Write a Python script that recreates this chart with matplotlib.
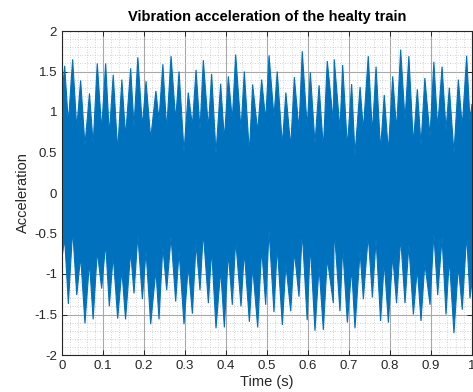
import numpy as np
import matplotlib
matplotlib.use('Agg')
import matplotlib.pyplot as plt
from matplotlib.ticker import MultipleLocator

plt.rcParams['font.family'] = ['Liberation Sans', 'DejaVu Sans']
plt.rcParams['axes.unicode_minus'] = False

# Picos positivos do sinal (tempo, amplitude)
t_up = [0.0065, 0.026, 0.0455, 0.067, 0.086, 0.1065, 0.125, 0.146, 0.1675, 0.185,
        0.205, 0.229, 0.246, 0.266, 0.2855, 0.308, 0.327, 0.3447, 0.365, 0.387,
        0.4057, 0.4236, 0.4447, 0.465, 0.487, 0.505, 0.525, 0.546, 0.5667, 0.586,
        0.6057, 0.627, 0.647, 0.664, 0.6846, 0.7065, 0.727, 0.747, 0.766, 0.786,
        0.8066, 0.826, 0.846, 0.8667, 0.885, 0.907, 0.927, 0.9447, 0.9667, 0.987]
peak_up = [1.57, 1.65, 1.39, 1.23, 1.60, 1.60, 1.46, 1.40, 1.54, 1.675,
           1.38, 1.26, 1.59, 1.69, 1.50, 1.24, 1.52, 1.64, 1.47, 1.35,
           1.44, 1.71, 1.50, 1.34, 1.40, 1.70, 1.50, 1.24, 1.43, 1.75,
           1.49, 1.33, 1.63, 1.65, 1.58, 1.345, 1.31, 1.69, 1.56, 1.21,
           1.44, 1.77, 1.69, 1.28, 1.42, 1.62, 1.56, 1.30, 1.40, 1.695]
# envelope inferior nos mesmos instantes
dip_lo = [-0.56, -0.45, -0.78, -0.85, -0.72, -0.62, -0.77, -0.95, -0.72, -0.52,
          -0.72, -0.95, -0.66, -0.54, -0.72, -0.90, -0.62, -0.48, -0.70, -0.95,
          -0.74, -0.58, -0.72, -0.91, -0.68, -0.46, -0.66, -0.88, -0.72, -0.48,
          -0.64, -0.91, -0.81, -0.44, -0.66, -0.93, -0.72, -0.52, -0.57, -0.85,
          -0.77, -0.55, -0.64, -0.93, -0.87, -0.50, -0.55, -0.81, -0.90, -0.51]

# Picos negativos do sinal
t_lo = [0.0155, 0.036, 0.056, 0.076, 0.0968, 0.1154, 0.1358, 0.155, 0.1756, 0.196,
        0.2163, 0.2366, 0.2553, 0.2773, 0.2976, 0.318, 0.3366, 0.357, 0.3756, 0.396,
        0.4154, 0.4366, 0.457, 0.4773, 0.4968, 0.517, 0.5374, 0.5578, 0.578, 0.598,
        0.617, 0.6374, 0.6618, 0.678, 0.696, 0.7146, 0.735, 0.757, 0.777, 0.796,
        0.816, 0.8366, 0.857, 0.8756, 0.8976, 0.9163, 0.9366, 0.956, 0.9763, 0.995]
peak_lo = [-1.37, -1.26, -1.61, -1.56, -1.18, -1.40, -1.55, -1.56, -1.24, -1.31,
           -1.62, -1.56, -1.20, -1.34, -1.62, -1.49, -1.20, -1.36, -1.67, -1.66,
           -1.38, -1.40, -1.59, -1.66, -1.38, -1.47, -1.63, -1.46, -1.28, -1.57,
           -1.70, -1.69, -1.36, -1.46, -1.60, -1.67, -1.31, -1.29, -1.58, -1.60,
           -1.36, -1.36, -1.50, -1.58, -1.38, -1.26, -1.50, -1.73, -1.44, -1.30]
# envelope superior nos mesmos instantes
dip_up = [0.86, 0.80, 0.59, 0.60, 0.78, 0.72, 0.52, 0.70, 0.82, 0.82,
          0.67, 0.90, 0.78, 0.90, 0.51, 0.83, 0.78, 0.80, 0.49, 0.66,
          0.90, 0.78, 0.49, 0.76, 0.90, 0.94, 0.59, 0.57, 0.78, 0.81,
          0.61, 0.55, 0.88, 0.78, 0.57, 0.47, 0.78, 0.74, 0.53, 0.51,
          0.78, 0.90, 0.61, 0.59, 0.70, 0.80, 0.78, 0.49, 0.82, 0.90]

# inicio e fim do registro
t_edge = [0.0, 1.0]
up_edge = [1.2, 1.1]
lo_edge = [-0.8, -1.1]

xticks = [0, 0.1, 0.2, 0.3, 0.4, 0.5, 0.6, 0.7, 0.8, 0.9, 1]
xtick_labels = ['0', '0.1', '0.2', '0.3', '0.4', '0.5', '0.6', '0.7', '0.8', '0.9', '1']
yticks = [-2, -1.5, -1, -0.5, 0, 0.5, 1, 1.5, 2]
ytick_labels = ['-2', '-1.5', '-1', '-0.5', '0', '0.5', '1', '1.5', '2']

# monta o contorno (envelope superior + inferior invertido)
tt = np.concatenate([t_edge[:1], t_up, t_lo, t_edge[1:]])
yy = np.concatenate([up_edge[:1], peak_up, dip_up, up_edge[1:]])
o = np.argsort(tt)
top_t, top_y = tt[o], yy[o]
tb = np.concatenate([t_edge[:1], t_lo, t_up, t_edge[1:]])
yb = np.concatenate([lo_edge[:1], peak_lo, dip_lo, lo_edge[1:]])
o = np.argsort(tb)
bot_t, bot_y = tb[o], yb[o]

fig = plt.figure(figsize=(4.73, 3.92), dpi=100)
ax = fig.add_axes([62 / 473, 37 / 392, 410 / 473, 324 / 392])

ax.fill(np.concatenate([top_t, bot_t[::-1]]), np.concatenate([top_y, bot_y[::-1]]),
        facecolor='#0072BD', edgecolor='#0072BD', linewidth=0.8, zorder=2)

ax.set_xlim(0, 1)
ax.set_ylim(-2, 2)
ax.set_xticks(xticks)
ax.set_xticklabels(xtick_labels)
ax.set_yticks(yticks)
ax.set_yticklabels(ytick_labels)
ax.xaxis.set_minor_locator(MultipleLocator(0.02))
ax.yaxis.set_minor_locator(MultipleLocator(0.1))
ax.set_axisbelow(True)
ax.grid(which='major', color='#a8a8a8', linewidth=0.8)
ax.grid(which='minor', color='#c4c4c4', linewidth=0.6, linestyle=(0, (1, 2)))

ax.tick_params(which='major', direction='in', length=3.5, width=0.7, colors='#262626',
               labelsize=9.5, top=True, right=True)
ax.tick_params(which='minor', length=0)
for s in ax.spines.values():
    s.set_color('#262626')
    s.set_linewidth(0.8)

ax.set_title('Vibration acceleration of the healty train', fontsize=10.5,
             fontweight='bold', pad=7)
ax.set_xlabel('Time (s)', fontsize=10.5, color='#262626', labelpad=2)
ax.set_ylabel('Acceleration', fontsize=10.5, color='#262626', labelpad=3)

fig.savefig('out.png', dpi=100)
